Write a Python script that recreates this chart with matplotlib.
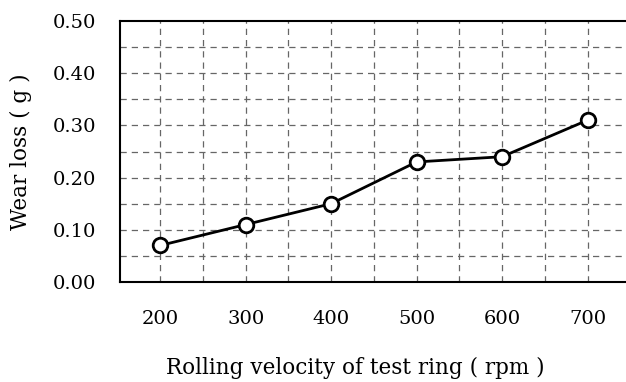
import matplotlib
matplotlib.use("Agg")
import matplotlib.pyplot as plt

# ── Data ─────────────────────────────────────────────────────────────────────
velocity = [200, 300, 400, 500, 600, 700]        # rpm
wear_loss = [0.07, 0.11, 0.15, 0.23, 0.24, 0.31]  # g
x_ticks = [200, 300, 400, 500, 600, 700]
y_ticks = [0.00, 0.10, 0.20, 0.30, 0.40, 0.50]
x_grid = [200, 250, 300, 350, 400, 450, 500, 550, 600, 650, 700]
y_grid = [0.05, 0.10, 0.15, 0.20, 0.25, 0.30, 0.35, 0.40, 0.45]

plt.rcParams["font.family"] = ["DejaVu Serif"]

fig = plt.figure(figsize=(6.26, 3.82), dpi=100)
ax = fig.add_axes([120 / 626, 100 / 382, 1 - 120 / 626, 261 / 382])

# dashed grid
for gx in x_grid:
    ax.axvline(gx, color="#666666", lw=0.9, ls=(0, (5, 4)), zorder=1)
for gy in y_grid:
    ax.axhline(gy, color="#666666", lw=0.9, ls=(0, (5, 4)), zorder=1)

ax.plot(velocity, wear_loss, color="black", lw=2, marker="o", ms=10.5,
        mfc="white", mec="black", mew=2, zorder=3)

ax.set_xlim(153, 745)
ax.set_ylim(0, 0.5)
ax.set_xticks(x_ticks)
ax.set_yticks(y_ticks)
ax.set_yticklabels([f"{v:.2f}" for v in y_ticks])
ax.tick_params(axis="x", length=0, pad=20, labelsize=14)
ax.tick_params(axis="y", length=0, pad=17, labelsize=14)

for s in ["left", "bottom", "top"]:
    ax.spines[s].set_linewidth(1.5)
ax.spines["right"].set_visible(False)

fig.text(355 / 626, 1 - 368 / 382, "Rolling velocity of test ring ( rpm )",
         ha="center", va="center", fontsize=15.5)
fig.text(21 / 626, 1 - 152 / 382, "Wear loss ( g )", rotation=90,
         ha="center", va="center", fontsize=15.5)

fig.savefig("out.png", dpi=100)
